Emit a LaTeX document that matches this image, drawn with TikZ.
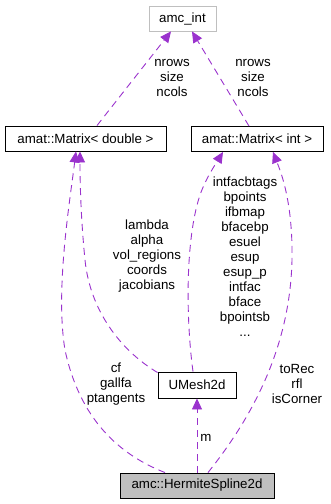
\documentclass[tikz,border=0pt]{standalone}
\usepackage{fontspec}
\setmainfont{Liberation Sans}
\usetikzlibrary{arrows.meta}
\definecolor{usecol}{HTML}{9A32CD}
\definecolor{boxgray}{HTML}{BFBFBF}
\begin{document}
\begin{tikzpicture}[x=1pt,y=-1pt,
  every node/.style={font=\fontsize{13.3}{15}\selectfont},
  classbox/.style={draw=black,line width=0.9pt,fill=white,inner sep=0pt,minimum height=25pt},
  extbox/.style={classbox,draw=boxgray},
  curbox/.style={classbox,fill=boxgray},
  uses/.style={draw=usecol,line width=0.9pt,dash pattern=on 7pt off 5pt,
    -{Triangle[length=11pt,width=10pt]}},
  lbl/.style={align=center,inner sep=0pt}]
\useasboundingbox (0,0) rectangle (331,504);

% classes
\node[extbox,minimum width=67pt] (amc) at (182.5,18.5) {amc\_int};
\node[classbox,minimum width=161pt] (mdbl) at (85.5,138.5) {amat::Matrix< double >};
\node[classbox,minimum width=132pt] (mint) at (257,139) {amat::Matrix< int >};
\node[classbox,minimum width=78pt,minimum height=26pt] (umesh) at (197,385) {UMesh2d};
\node[curbox,minimum width=154pt] (herm) at (197,485.5) {amc::HermiteSpline2d};

% usage relations
\draw[uses] ([xshift=11.5pt]mdbl.north) -- ([xshift=-11.5pt]amc.south);
\draw[uses] ([xshift=-8pt]mint.north) -- ([xshift=9.5pt]amc.south);
\draw[uses] ([yshift=-1pt]umesh.north west) .. controls (120,350) and (90,310) .. (85,260)
  .. controls (81,220) and (80,185) .. ([xshift=-5.5pt]mdbl.south);
\draw[uses] ([xshift=-32pt]herm.north) .. controls (120,455) and (80,420) .. (65,350)
  .. controls (55,290) and (70,200) .. ([xshift=-9.5pt]mdbl.south);
\draw[uses] ([xshift=-4pt]umesh.north) .. controls (186,320) and (185,240) .. (200,195)
  .. controls (206,178) and (215,165) .. ([xshift=-34pt]mint.south);
\draw[uses] ([xshift=11pt]herm.north) .. controls (250,420) and (290,350) .. (292,260)
  .. controls (293,200) and (280,170) .. ([xshift=16pt]mint.south);
\draw[uses] (herm.north) -- (umesh.south);

% member labels
\node[lbl] (l1) at (172,78) {nrows\\size\\ncols};
\node[lbl] (l2) at (253,78) {nrows\\size\\ncols};
\node[lbl] (l3) at (147,256.5) {lambda\\alpha\\vol\_regions\\coords\\jacobians};
\node[lbl] (l4) at (245,256.5) {intfacbtags\\bpoints\\ifbmap\\bfacebp\\esuel\\esup\\esup\_p\\intfac\\bface\\bpointsb\\...};
\node[lbl] (l5) at (116,384) {cf\\gallfa\\ptangents};
\node[lbl] (l6) at (297,384) {toRec\\rfl\\isCorner};
\node[lbl] (l7) at (206,438) {m};
\end{tikzpicture}
\end{document}
